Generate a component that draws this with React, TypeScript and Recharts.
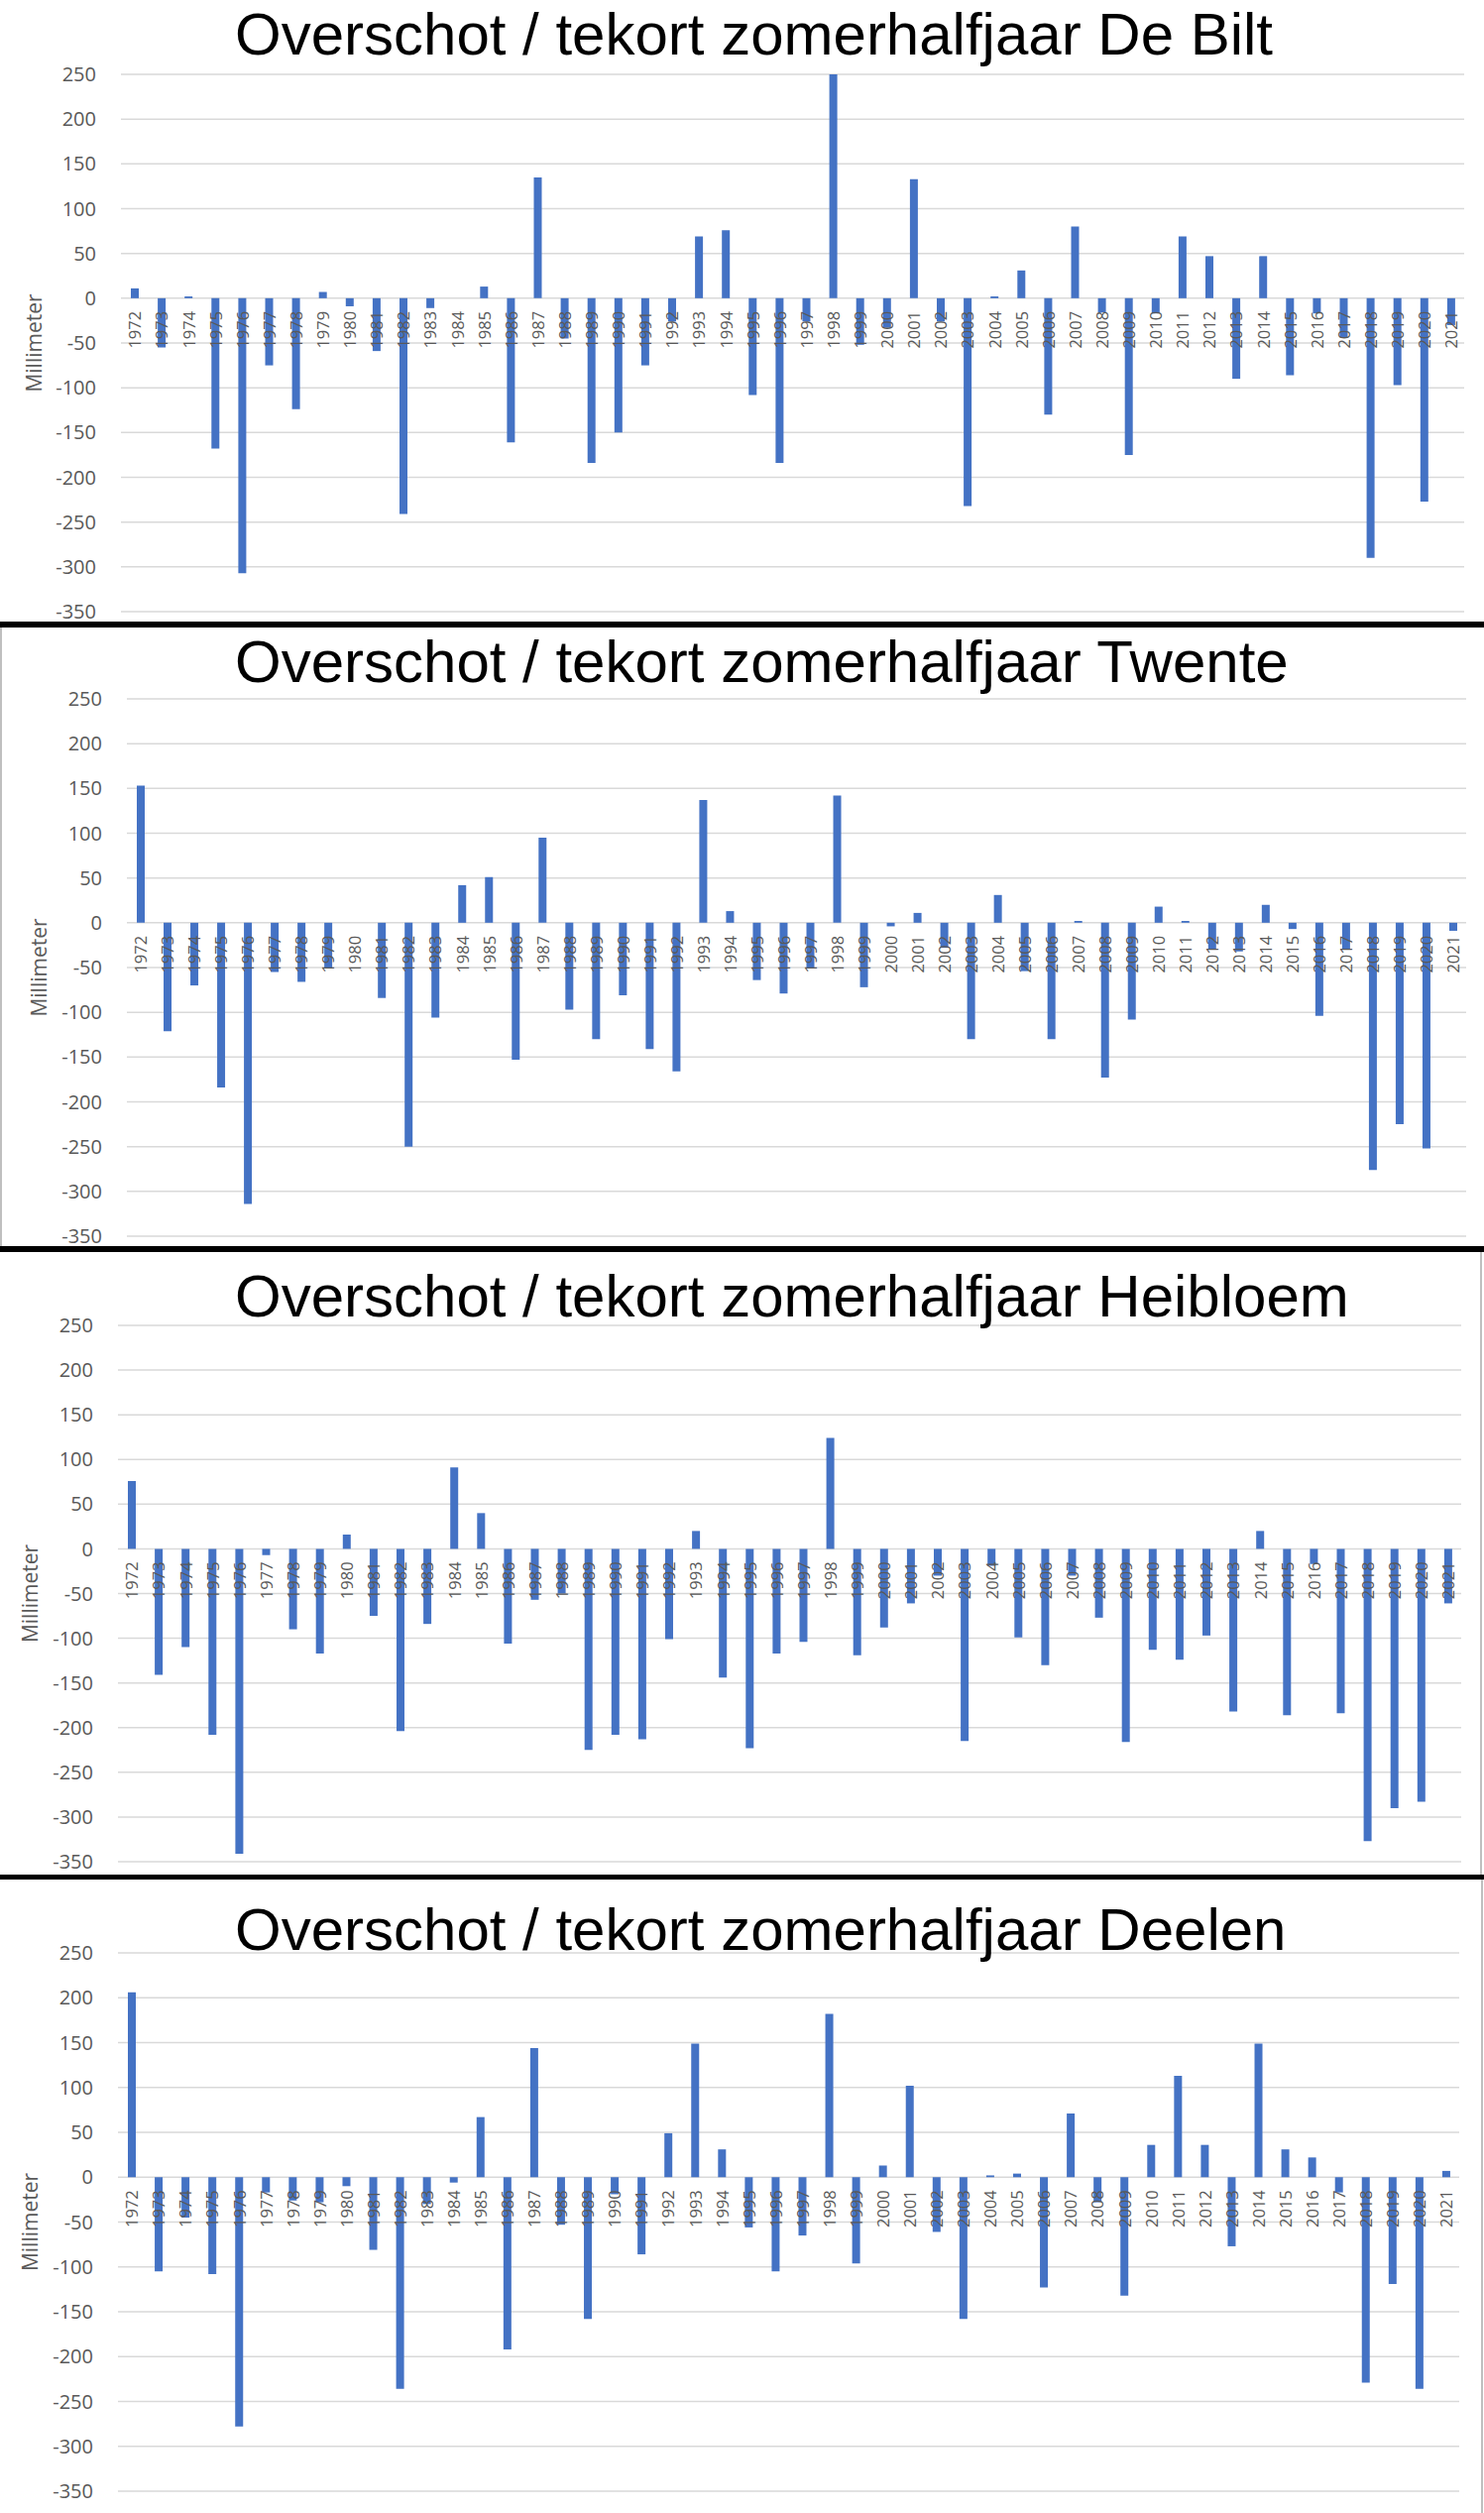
import React from 'react';
import { BarChart, Bar, XAxis, YAxis, CartesianGrid } from 'recharts';

const years = [
  '1972', '1973', '1974', '1975', '1976', '1977', '1978', '1979', '1980', '1981',
  '1982', '1983', '1984', '1985', '1986', '1987', '1988', '1989', '1990', '1991',
  '1992', '1993', '1994', '1995', '1996', '1997', '1998', '1999', '2000', '2001',
  '2002', '2003', '2004', '2005', '2006', '2007', '2008', '2009', '2010', '2011',
  '2012', '2013', '2014', '2015', '2016', '2017', '2018', '2019', '2020', '2021',
];

const yTicks = [-350, -300, -250, -200, -150, -100, -50, 0, 50, 100, 150, 200, 250];

const deBilt = [
  11, -55, 2, -168, -307, -75, -124, 7, -9, -59,
  -241, -11, 0, 13, -161, 135, -45, -184, -150, -75,
  -26, 69, 76, -108, -184, -26, 250, -52, -33, 133,
  -26, -232, 2, 31, -130, 80, -16, -175, -17, 69,
  47, -90, 47, -86, -17, -44, -290, -97, -227, -30,
];

const twente = [
  153, -121, -70, -184, -314, -55, -66, -50, 0, -84,
  -250, -106, 42, 51, -153, 95, -97, -130, -81, -141,
  -166, 137, 13, -64, -79, -50, 142, -72, -4, 11,
  -28, -130, 31, -54, -130, 2, -173, -108, 18, 2,
  -30, -32, 20, -7, -104, -30, -276, -225, -252, -9,
];

const heibloem = [
  76, -141, -110, -208, -341, -7, -90, -117, 16, -75,
  -204, -84, 91, 40, -106, -57, -50, -225, -208, -213,
  -101, 20, -144, -223, -117, -104, 124, -119, -88, -61,
  -30, -215, -19, -99, -130, -30, -77, -216, -113, -124,
  -97, -182, 20, -186, -17, -184, -327, -290, -283, -61,
];

const deelen = [
  206, -105, -45, -108, -278, -17, -26, -28, -10, -81,
  -236, -30, -6, 67, -192, 144, -53, -158, -19, -86,
  49, 149, 31, -56, -105, -65, 182, -96, 13, 102,
  -61, -158, 2, 4, -123, 71, -28, -132, 36, 113,
  36, -77, 149, 31, 22, -17, -229, -119, -236, 7,
];

const BLUE = '#4472C4';
const GRID = '#D9D9D9';
const LABEL = '#595959';

interface Frame {
  top: number;
  yTop: number;
  yBot: number;
  xL: number;
  xR: number;
  tickRight: number;
  titleBase: number;
  mmX: number;
}

interface Station {
  title: string;
  values: number[];
  frame: Frame;
}

const stations: Station[] = [
  {
    title: 'Overschot / tekort zomerhalfjaar De Bilt',
    values: deBilt,
    frame: { top: 0, yTop: 75, yBot: 617, xL: 122, xR: 1477, tickRight: 97, titleBase: 55, mmX: 35 },
  },
  {
    title: 'Overschot / tekort zomerhalfjaar Twente',
    values: twente,
    frame: { top: 633, yTop: 705, yBot: 1247, xL: 128, xR: 1479, tickRight: 103, titleBase: 688, mmX: 40 },
  },
  {
    title: 'Overschot / tekort zomerhalfjaar Heibloem',
    values: heibloem,
    frame: { top: 1263, yTop: 1337, yBot: 1878, xL: 119, xR: 1474, tickRight: 94, titleBase: 1328, mmX: 31 },
  },
  {
    title: 'Overschot / tekort zomerhalfjaar Deelen',
    values: deelen,
    frame: { top: 1896, yTop: 1970, yBot: 2513, xL: 119, xR: 1472, tickRight: 94, titleBase: 1967, mmX: 31 },
  },
];

const StationChart: React.FC<Station> = ({ values, frame }) => {
  const data = years.map((year, i) => ({ year, value: values[i] }));
  const plotH = frame.yBot - frame.yTop;
  // distance from the bottom of the plot up to the zero line
  const zeroOffset = (plotH * 350) / 600;
  const height = frame.yBot + 16 - frame.top;

  const renderYearTick = (props: any) => {
    const { x, y, payload } = props;
    const tx = x + 1;
    const ty = y - zeroOffset + 13;
    return (
      <text
        x={tx}
        y={ty}
        transform={`rotate(-90 ${tx} ${ty})`}
        textAnchor="end"
        dy="0.35em"
        fill={LABEL}
        fontSize={16.5}
        fontFamily="'Open Sans', sans-serif"
      >
        {payload.value}
      </text>
    );
  };

  return (
    <div style={{ position: 'absolute', left: 0, top: frame.top }}>
      <BarChart
        width={1497}
        height={height}
        data={data}
        margin={{ top: frame.yTop - frame.top, right: 1497 - frame.xR, bottom: 6, left: 0 }}
      >
        <CartesianGrid vertical={false} stroke={GRID} strokeWidth={1.5} />
        <XAxis
          dataKey="year"
          interval={0}
          height={10}
          tickLine={false}
          axisLine={false}
          tickSize={0}
          tickMargin={0}
          padding={{ left: 0, right: 0 }}
          tick={renderYearTick}
        />
        <YAxis
          type="number"
          domain={[-350, 250]}
          ticks={yTicks}
          interval={0}
          allowDataOverflow
          width={frame.xL}
          tickLine={false}
          axisLine={false}
          tickSize={0}
          tickMargin={frame.xL - frame.tickRight}
          tick={{ fill: LABEL, fontSize: 20, fontFamily: "'Open Sans', sans-serif" }}
        />
        <Bar dataKey="value" fill={BLUE} barSize={8} isAnimationActive={false} />
      </BarChart>
    </div>
  );
};

const App: React.FC = () => {
  return (
    <div
      style={{
        position: 'absolute',
        left: 0,
        top: 0,
        width: 1497,
        height: 2535,
        background: '#ffffff',
        overflow: 'hidden',
      }}
    >
      {stations.map((s) => (
        <StationChart key={s.title} {...s} />
      ))}
      <svg
        width={1497}
        height={2535}
        style={{ position: 'absolute', left: 0, top: 0, pointerEvents: 'none' }}
      >
        {/* panel borders and separators */}
        <rect x={0} y={633} width={2} height={624} fill="#BFBFBF" />
        <rect x={1493} y={1263} width={2} height={628} fill="#BFBFBF" />
        <rect x={1494} y={1896} width={2} height={639} fill="#BFBFBF" />
        <rect x={0} y={627} width={1497} height={6} fill="#000" />
        <rect x={0} y={1257} width={1497} height={6} fill="#000" />
        <rect x={0} y={1891} width={1497} height={5} fill="#000" />
        {stations.map((s) => {
          const f = s.frame;
          const cy = (f.yTop + f.yBot) / 2;
          return (
            <g key={s.title}>
              <text
                x={237}
                y={f.titleBase}
                fontSize={60}
                fontFamily="'Liberation Sans', Arial, sans-serif"
                fill="#000"
              >
                {s.title}
              </text>
              <text
                x={f.mmX}
                y={cy}
                transform={`rotate(-90 ${f.mmX} ${cy})`}
                textAnchor="middle"
                dy="0.35em"
                fontSize={21}
                fontFamily="'Open Sans', sans-serif"
                fill={LABEL}
              >
                Millimeter
              </text>
            </g>
          );
        })}
      </svg>
    </div>
  );
};

export default App;
